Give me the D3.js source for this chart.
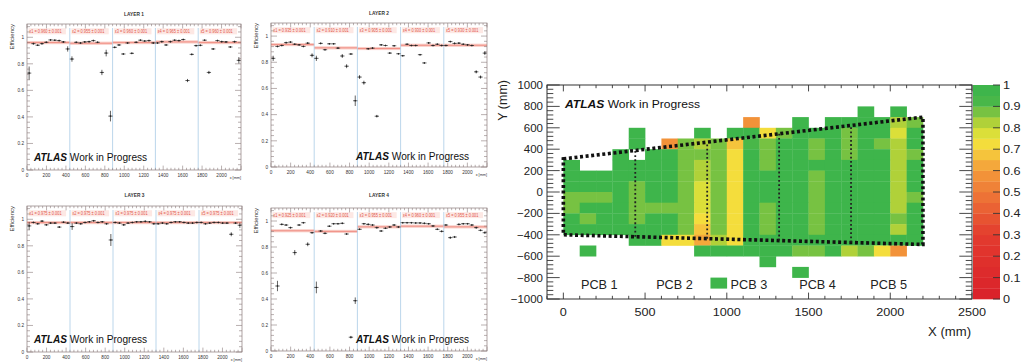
<!DOCTYPE html>
<html>
<head>
<meta charset="utf-8">
<script src="https://cdn.jsdelivr.net/npm/d3@7"></script>
<style>
body { margin: 0; background: #fff; }
svg { display: block; font-family: 'Liberation Sans', Arial, Helvetica, sans-serif; }
</style>
</head>
<body>
<div id="chart"></div>
<script>
// ---------- data: per-layer efficiency vs x ----------
const pcbEdges = [0, 440, 880, 1320, 1760, 2200];
const binWidth = 44;
const layerTitles = ['LAYER 1', 'LAYER 2', 'LAYER 3', 'LAYER 4'];

const layer1Eff = [
    0.73, 0.952, 0.94, 0.952, 0.962, 0.98, 0.978, 0.975, 0.965, 0.912,
    0.836, 0.962, 0.957, 0.965, 0.967, 0.975, 0.962, 0.735, 0.881, 0.406,
    0.924, 0.942, 0.874, 0.957, 0.879, 0.962, 0.978, 0.972, 0.975, 0.957,
    0.957, 0.967, 0.942, 0.967, 0.978, 0.975, 0.983, 0.674, 0.871, 0.937,
    0.939, 0.978, 0.735, 0.912, 0.975, 0.967, 0.965, 0.927, 0.967, 0.826];
const layer2Eff = [
    0.83, 0.921, 0.928, 0.95, 0.954, 0.938, 0.933, 0.921, 0.946, 0.853,
    0.83, 0.944, 0.896, 0.941, 0.941, 0.908, 0.848, 0.77, 0.863, 0.506,
    0.687, 0.644, 0.903, 0.908, 0.388, 0.933, 0.928, 0.87, 0.926, 0.865,
    0.85, 0.938, 0.928, 0.928, 0.858, 0.795, 0.948, 0.928, 0.938, 0.928,
    0.928, 0.958, 0.944, 0.946, 0.938, 0.933, 0.928, 0.727, 0.687, 0.87];
const layer3Eff = [
    0.95, 0.976, 0.966, 0.986, 0.958, 0.971, 0.971, 0.941, 0.978, 0.971,
    0.945, 0.971, 0.966, 0.976, 0.981, 0.989, 0.976, 0.981, 0.966, 0.844,
    0.976, 0.971, 0.958, 0.971, 0.976, 0.981, 0.981, 0.984, 0.981, 0.966,
    0.966, 0.971, 0.966, 0.976, 0.981, 0.981, 0.976, 0.971, 0.971, 0.976,
    0.976, 0.966, 0.971, 0.976, 0.976, 0.971, 0.971, 0.887, 0.971, 0.955];
const layer4Eff = [
    null, 0.5, 0.974, 0.969, 0.949, 0.757, 0.969, 0.987, 0.821, 0.91,
    0.489, 0.923, 0.905, 0.96, 0.979, 0.979, 0.982, 0.9, 0.106, 0.387,
    0.936, 0.979, 0.974, 0.969, 0.949, 0.923, 0.944, 0.954, 0.969, 0.954,
    0.987, 0.987, 0.987, 0.985, 0.985, 0.982, 0.979, 0.962, 0.936, 0.92,
    0.969, 0.872, 0.877, 0.974, 0.979, 0.979, 0.969, 0.949, 0.928, 0.91];

// larger error bars (bin index -> error), others use defaultErr
const defaultErr = 0.006;
const layer1Err = { 0: 0.05, 9: 0.02, 10: 0.02, 17: 0.02, 18: 0.025, 19: 0.04, 37: 0.012, 42: 0.012, 49: 0.025 };
const layer2Err = { 0: 0.02, 9: 0.015, 10: 0.02, 16: 0.015, 17: 0.015, 19: 0.04, 20: 0.015, 21: 0.015, 24: 0.01, 47: 0.012, 48: 0.012, 49: 0.015 };
const layer3Err = { 0: 0.03, 10: 0.025, 19: 0.045, 47: 0.015, 49: 0.02 };
const layer4Err = { 1: 0.04, 5: 0.02, 8: 0.015, 10: 0.045, 18: 0.01, 19: 0.025, 41: 0.008, 42: 0.008 };

// per-PCB fitted mean efficiency
const layer1Mean = [0.96, 0.955, 0.96, 0.965, 0.96];
const layer2Mean = [0.935, 0.91, 0.905, 0.93, 0.93];
const layer3Mean = [0.975, 0.975, 0.975, 0.975, 0.975];
const layer4Mean = [0.925, 0.92, 0.955, 0.96, 0.955];

const effTicks = [0, 0.2, 0.4, 0.6, 0.8, 1];
const effTickLabels = ['0', '0.2', '0.4', '0.6', '0.8', '1'];
const posTicks = [0, 200, 400, 600, 800, 1000, 1200, 1400, 1600, 1800, 2000];

// ---------- data: 2D efficiency map (100 mm cells) ----------
const mapCols = [0, 100, 200, 300, 400, 500, 600, 700, 800, 900, 1000,
    1100, 1200, 1300, 1400, 1500, 1600, 1700, 1800, 1900, 2000, 2100];
const mapRows = [700, 600, 500, 400, 300, 200, 100, 0, -100, -200, -300, -400, -500, -600, -700, -800, -900];
const _ = null;
const effMap = [
    [_, _, _, _, _, _, _, _, _, _, _, _, _, _, _, _, _, _, .96, _, .96, _],
    [_, _, _, _, _, _, _, _, _, _, _, .55, _, _, .96, _, .96, .96, .96, .96, .80, .88],
    [_, _, _, _, .96, _, _, _, .96, _, .96, .96, .74, .88, .96, .96, .96, .88, .96, .96, .79, .96],
    [_, _, _, _, .96, _, .55, .86, .82, .85, .66, .93, .88, .96, .96, .87, .96, .88, .96, .88, .82, .96],
    [_, _, _, .96, _, .96, .96, .86, .85, .86, .72, .96, .88, .96, .96, .87, .96, .88, .96, .96, .83, .88],
    [.96, _, _, .96, .96, .96, .96, .87, .82, .85, .74, .96, .88, .96, .96, .96, .96, .96, .96, .96, .83, .96],
    [.96, .96, .96, .96, .96, .96, .96, .86, .80, .86, .72, .96, .96, .96, .96, .86, .96, .96, .96, .96, .83, .96],
    [.96, .96, .96, .96, .88, .96, .96, .86, .76, .86, .70, .96, .96, .96, .96, .86, .96, .96, .96, .96, .83, .96],
    [.88, .88, .88, .96, .88, .96, .96, .86, .75, .86, .72, .96, .96, .96, .96, .86, .96, .96, .96, .96, .83, .88],
    [.88, .96, .96, .96, .88, .88, .88, .86, .75, .88, .72, .96, .88, .96, .96, .86, .96, .96, .96, .96, .83, .96],
    [.96, .88, .96, .96, .88, .96, .96, .86, .74, .86, .72, .96, .88, .96, .96, .86, .96, .96, .96, .96, .87, .96],
    [.96, .96, .96, .96, .96, .96, .96, .86, .65, .86, .72, .96, .88, .96, .96, .86, .96, .96, .96, .96, .80, .96],
    [_, _, _, _, .96, .96, .73, .74, .60, .83, .72, .96, .96, .96, .96, .96, .96, .96, .96, .96, .96, .96],
    [_, .96, _, _, _, _, _, _, .96, .96, .96, .96, .96, .96, .88, .88, .96, .80, .88, .72, .58, _],
    [_, _, _, _, _, _, _, _, _, _, _, _, .96, _, _, _, _, _, _, _, _, _],
    [_, _, _, _, _, _, _, _, _, _, _, _, _, _, .96, _, _, _, _, _, _, _],
    [_, _, _, _, _, _, _, _, _, .96, _, _, _, _, _, _, _, _, _, _, _, _]
];
const outline = [[0, 310], [2200, 700], [2200, -490], [0, -400]];
const pcbNames = ['PCB 1', 'PCB 2', 'PCB 3', 'PCB 4', 'PCB 5'];
const pcbLabelX = [220, 680, 1135, 1555, 1990];
const mapXTicks = [0, 500, 1000, 1500, 2000, 2500];
const mapYTicks = [1000, 800, 600, 400, 200, 0, -200, -400, -600, -800, -1000];
const zTicks = [0, 0.1, 0.2, 0.3, 0.4, 0.5, 0.6, 0.7, 0.8, 0.9, 1];
const zStops = [0, 0.3, 0.5, 0.6, 0.7, 0.75, 0.8, 0.85, 0.9, 0.95, 1];
const zColors = ['#d9202a', '#e33b2e', '#ee7a37', '#f39a3a', '#f6d23c', '#f2e83c',
    '#c3d636', '#9ccb3c', '#52b947', '#40b54a', '#3cb44b'];

// ---------- setup ----------
const svg = d3.select('#chart')
    .append('svg')
    .attr('width', 1022)
    .attr('height', 363);

const addText = (g, x, y, str, o = {}) => {
    const opt = Object.assign({ size: 10, sx: 1, anchor: 'start', weight: 'normal', style: 'normal', fill: '#111', rotate: 0 }, o);
    return g.append('text')
        .attr('transform', `translate(${x},${y}) rotate(${opt.rotate}) scale(${opt.sx},1)`)
        .attr('text-anchor', opt.anchor)
        .attr('font-size', opt.size)
        .attr('font-weight', opt.weight)
        .attr('font-style', opt.style)
        .attr('fill', opt.fill)
        .text(str);
};

const addAtlas = (g, x, y, size, sx) => {
    const t = g.append('text')
        .attr('transform', `translate(${x},${y}) scale(${sx},1)`)
        .attr('font-size', size)
        .attr('fill', '#111');
    t.append('tspan').attr('font-weight', 'bold').attr('font-style', 'italic').text('ATLAS');
    t.append('tspan').text(' Work in Progress');
};

// ---------- four efficiency panels ----------
const panels = [
    { title: layerTitles[0], eff: layer1Eff, err: layer1Err, mean: layer1Mean, box: { x0: 27, x1: 241, y0: 24, y1: 170 }, titleY: 16, atlas: [34, 161] },
    { title: layerTitles[1], eff: layer2Eff, err: layer2Err, mean: layer2Mean, box: { x0: 271, x1: 487, y0: 23, y1: 167 }, titleY: 15, atlas: [356, 160] },
    { title: layerTitles[2], eff: layer3Eff, err: layer3Err, mean: layer3Mean, box: { x0: 27, x1: 242, y0: 206, y1: 352 }, titleY: 197, atlas: [34, 343] },
    { title: layerTitles[3], eff: layer4Eff, err: layer4Err, mean: layer4Mean, box: { x0: 271, x1: 487, y0: 208, y1: 351 }, titleY: 197, atlas: [356, 343] }
];

const frameColor = '#8c7c7c';

panels.forEach((p, pi) => {
    const g = svg.append('g').attr('class', 'panel');
    const b = p.box;
    const x = d3.scaleLinear().domain([0, 2200]).range([b.x0, b.x1]);
    const y = d3.scaleLinear().domain([0, 1.1]).range([b.y1, b.y0]);

    // fitted mean bands and labels
    p.mean.forEach((m, k) => {
        const xa = pcbEdges[k], xb = pcbEdges[k + 1];
        g.append('rect')
            .attr('x', x(xa)).attr('width', x(xb) - x(xa))
            .attr('y', y(m + 0.012)).attr('height', y(m - 0.012) - y(m + 0.012))
            .attr('fill', '#f9cdc6');
        g.append('line')
            .attr('x1', x(xa)).attr('x2', x(xb))
            .attr('y1', y(m)).attr('y2', y(m))
            .attr('stroke', '#ee7f74').attr('stroke-width', 0.8);
        g.append('rect')
            .attr('x', x(xa + 15)).attr('width', x(xa + 400) - x(xa + 15))
            .attr('y', y(1.068)).attr('height', y(1.022) - y(1.068))
            .attr('fill', '#fde8e4');
        addText(g, x(xa + 25), y(1.033), `ε${k + 1} = ${m.toFixed(3)} ± 0.001`,
            { size: 4.6, sx: 0.85, fill: '#e2564b' });
    });

    // PCB boundaries
    pcbEdges.slice(1, -1).forEach(e => {
        g.append('line')
            .attr('x1', x(e)).attr('x2', x(e))
            .attr('y1', y(0)).attr('y2', y(1.07))
            .attr('stroke', '#a9cbe6').attr('stroke-width', 0.8);
    });

    // points with error bars
    p.eff.forEach((v, i) => {
        if (v === null) return;
        const e = p.err[i] ?? defaultErr;
        const cx = x(binWidth * (i + 0.5));
        g.append('line')
            .attr('x1', x(binWidth * i)).attr('x2', x(binWidth * (i + 1)))
            .attr('y1', y(v)).attr('y2', y(v))
            .attr('stroke', '#222').attr('stroke-width', 0.7);
        g.append('line')
            .attr('x1', cx).attr('x2', cx)
            .attr('y1', y(v - e)).attr('y2', y(Math.min(1, v + e)))
            .attr('stroke', '#222').attr('stroke-width', 0.7);
        g.append('circle').attr('cx', cx).attr('cy', y(v)).attr('r', 0.8).attr('fill', '#222');
    });

    // frame
    g.append('rect')
        .attr('x', b.x0).attr('y', b.y0)
        .attr('width', b.x1 - b.x0).attr('height', b.y1 - b.y0)
        .attr('fill', 'none').attr('stroke', frameColor).attr('stroke-width', 0.7);

    // ticks (ROOT style, inside, mirrored)
    const tk = g.append('g').attr('stroke', frameColor).attr('stroke-width', 0.6);
    d3.range(0, 1.1, 0.04).forEach(t => {
        const major = effTicks.some(m => Math.abs(m - t) < 1e-6);
        const len = major ? 6 : 3;
        tk.append('line').attr('x1', b.x0).attr('x2', b.x0 + len).attr('y1', y(t)).attr('y2', y(t));
        tk.append('line').attr('x1', b.x1).attr('x2', b.x1 - len).attr('y1', y(t)).attr('y2', y(t));
    });
    d3.range(0, 2201, 40).forEach(t => {
        const major = t % 200 === 0;
        const len = major ? 4.4 : 2.2;
        tk.append('line').attr('x1', x(t)).attr('x2', x(t)).attr('y1', b.y1).attr('y2', b.y1 - len);
        tk.append('line').attr('x1', x(t)).attr('x2', x(t)).attr('y1', b.y0).attr('y2', b.y0 + len);
    });

    effTicks.forEach((t, k) => {
        addText(g, b.x0 - 3, y(t) + 1.8, effTickLabels[k], { size: 5.2, sx: 0.9, anchor: 'end', fill: '#333' });
    });
    posTicks.forEach(t => {
        addText(g, x(t), b.y1 + 6.5, String(t), { size: 5.2, sx: 0.9, anchor: 'middle', fill: '#333' });
    });
    addText(g, b.x1, b.y1 + 8.5, 'x [mm]', { size: 4.2, sx: 0.9, anchor: 'end', fill: '#333' });
    addText(g, b.x0 - 13, b.y0, 'Efficiency', { size: 6, rotate: -90, anchor: 'end', fill: '#333' });
    addText(g, (b.x0 + b.x1) / 2, p.titleY, p.title, { size: 6, sx: 0.8, anchor: 'middle', weight: 'bold', fill: '#333' });
    addAtlas(g, p.atlas[0], p.atlas[1], 11.5, 0.88);
});

// ---------- 2D map ----------
const hm = svg.append('g').attr('class', 'map');
const xs = d3.scaleLinear().domain([-100, 2500]).range([547, 972]);
const ys = d3.scaleLinear().domain([-1000, 1000]).range([299, 85]);
const zs = d3.scaleLinear().domain([0, 1]).range([299, 85]);
const zInterp = d3.scaleLinear().domain(zStops).range(zColors);
const nBands = 20;
const colour = v => zInterp((Math.min(nBands - 1, Math.floor(v * nBands)) + 0.5) / nBands);

const cellW = xs(100) - xs(0);
const cellH = ys(0) - ys(100);
effMap.forEach((row, r) => {
    row.forEach((v, c) => {
        if (v === null) return;
        hm.append('rect')
            .attr('x', xs(mapCols[c]))
            .attr('y', ys(mapRows[r] + 100))
            .attr('width', cellW + 0.3)
            .attr('height', cellH + 0.3)
            .attr('fill', colour(v));
    });
});

// PCB outline
const line = d3.line().x(d => xs(d[0])).y(d => ys(d[1]));
hm.append('path')
    .attr('d', line(outline) + 'Z')
    .attr('fill', 'none')
    .attr('stroke', '#111')
    .attr('stroke-width', 3.6)
    .attr('stroke-dasharray', '3,2.6');
const yTopAt = xv => outline[0][1] + (outline[1][1] - outline[0][1]) * xv / 2200;
const yBotAt = xv => outline[3][1] + (outline[2][1] - outline[3][1]) * xv / 2200;
pcbEdges.slice(1, -1).forEach(e => {
    hm.append('line')
        .attr('x1', xs(e)).attr('x2', xs(e))
        .attr('y1', ys(yBotAt(e))).attr('y2', ys(yTopAt(e)))
        .attr('stroke', '#222').attr('stroke-width', 1.8)
        .attr('stroke-dasharray', '1.8,2.4');
});

// frame and ticks
hm.append('rect')
    .attr('x', 547).attr('y', 85).attr('width', 972 - 547).attr('height', 299 - 85)
    .attr('fill', 'none').attr('stroke', '#333').attr('stroke-width', 1);
const mt = hm.append('g').attr('stroke', '#333').attr('stroke-width', 0.9);
d3.range(-1000, 1001, 40).forEach(t => {
    const len = t % 200 === 0 ? 12.7 : 6.3;
    mt.append('line').attr('x1', 547).attr('x2', 547 + len).attr('y1', ys(t)).attr('y2', ys(t));
    mt.append('line').attr('x1', 972).attr('x2', 972 - len).attr('y1', ys(t)).attr('y2', ys(t));
});
d3.range(-100, 2501, 100).forEach(t => {
    const len = t % 500 === 0 ? 6.4 : 3.2;
    mt.append('line').attr('x1', xs(t)).attr('x2', xs(t)).attr('y1', 299).attr('y2', 299 - len);
    mt.append('line').attr('x1', xs(t)).attr('x2', xs(t)).attr('y1', 85).attr('y2', 85 + len);
});
mapYTicks.forEach(t => {
    addText(hm, 543, ys(t) + 4, t < 0 ? '\u2212' + Math.abs(t) : String(t), { size: 11.5, anchor: 'end', fill: '#222' });
});
mapXTicks.forEach(t => {
    addText(hm, xs(t), 316, String(t), { size: 11.5, sx: 1.1, anchor: 'middle', fill: '#222' });
});
addText(hm, 971, 336, 'X (mm)', { size: 12.5, sx: 1.05, anchor: 'end', fill: '#222' });
addText(hm, 507, 80, 'Y (mm)', { size: 12.5, rotate: -90, anchor: 'end', fill: '#222' });
addAtlas(hm, 565, 108, 11.5, 1.05);

pcbNames.forEach((n, k) => {
    addText(hm, xs(pcbLabelX[k]), 289, n, { size: 12, sx: 1.06, anchor: 'middle', fill: '#222' });
});

// colour bar
d3.range(nBands).forEach(k => {
    const lo = k / nBands, hi = (k + 1) / nBands;
    hm.append('rect')
        .attr('x', 973).attr('width', 27)
        .attr('y', zs(hi)).attr('height', zs(lo) - zs(hi) + 0.3)
        .attr('fill', colour(lo + 0.001));
});
zTicks.forEach(t => {
    hm.append('line')
        .attr('x1', 1000).attr('x2', 993)
        .attr('y1', zs(t)).attr('y2', zs(t))
        .attr('stroke', '#333').attr('stroke-width', 0.9);
    addText(hm, 1003, zs(t) + 4, String(t), { size: 11.5, sx: 1.1, fill: '#222' });
});
</script>
</body>
</html>
